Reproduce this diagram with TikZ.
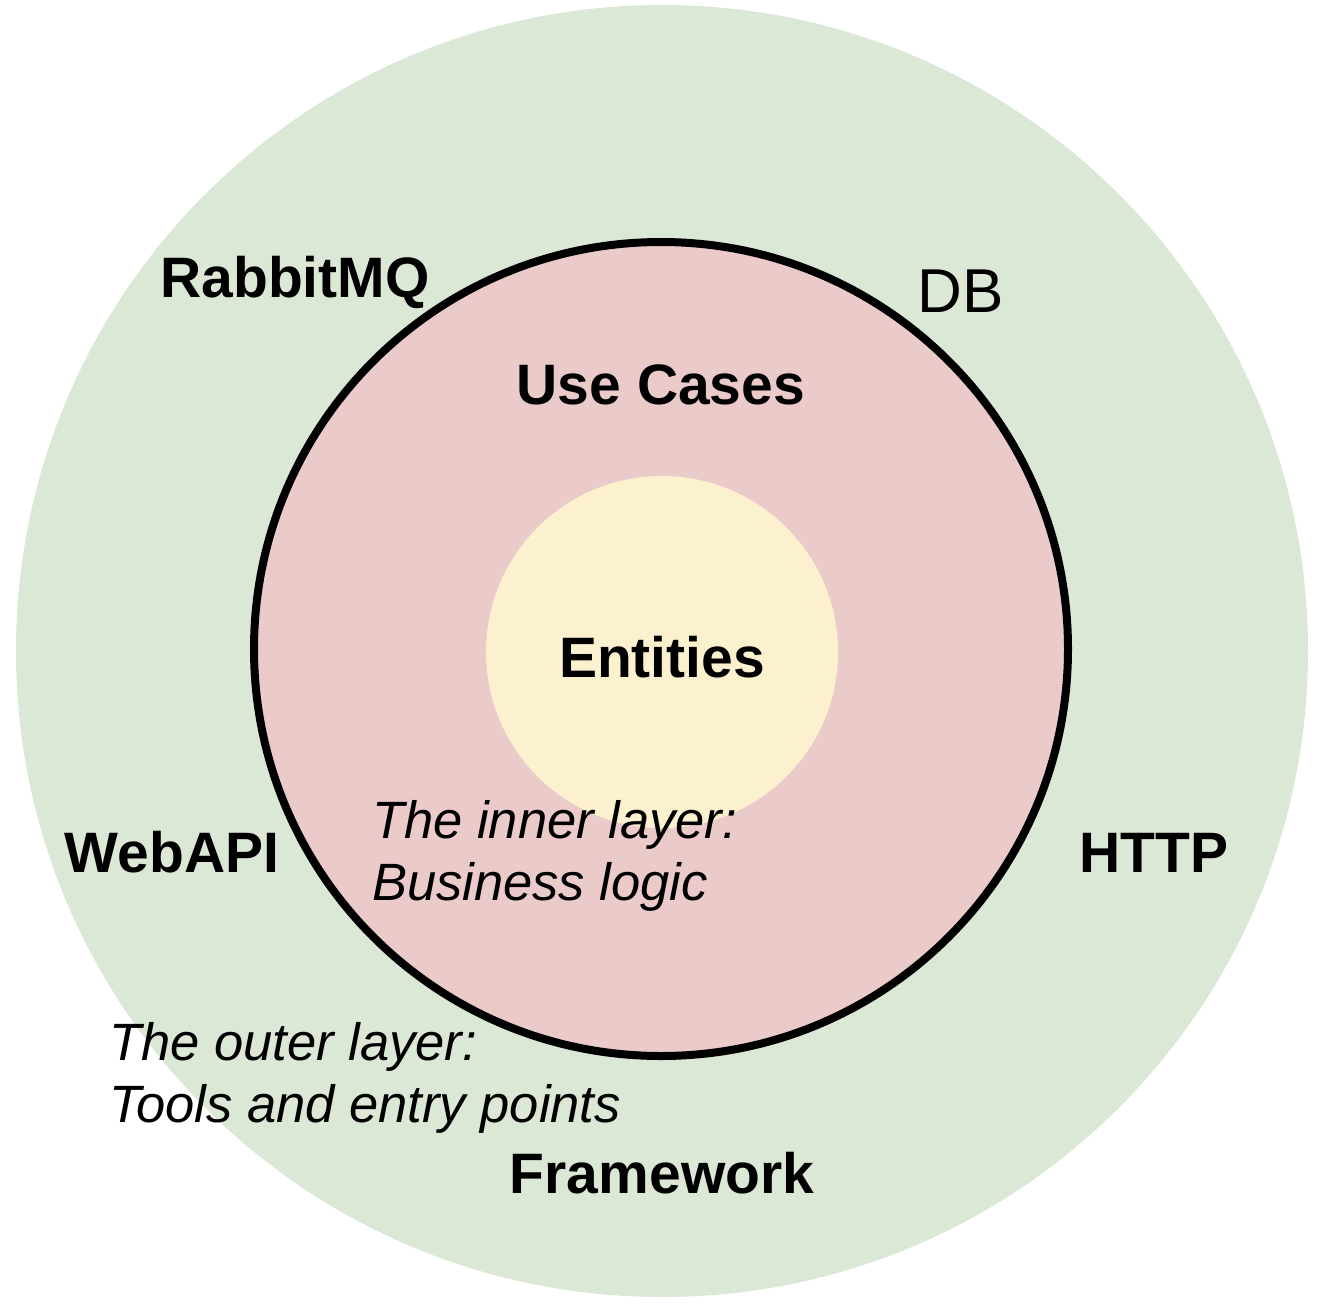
\documentclass[tikz,border=0pt]{standalone}
\usepackage{fontspec}
\setmainfont{Liberation Sans}
\definecolor{outerfill}{HTML}{DAE8D5}
\definecolor{midfill}{HTML}{EBCACA}
\definecolor{corefill}{HTML}{FCF1CF}
\begin{document}
\begin{tikzpicture}[x=1pt,y=-1pt,
  layer/.style={circle,inner sep=0pt,minimum size=#1},
  tag/.style={font=\fontsize{57}{64}\selectfont\bfseries,anchor=base,inner sep=0pt},
  plaintag/.style={font=\fontsize{62}{70}\selectfont,anchor=base,inner sep=0pt},
  note/.style={font=\fontsize{52.5}{62}\selectfont\itshape,align=left,anchor=base west,inner sep=0pt}]
  \useasboundingbox (0,0) rectangle (1322,1304);
  % concentric layers
  \node[layer=1292pt,fill=outerfill] (outer) at (662,651) {};
  \node[layer=814pt,fill=midfill,draw=black,line width=8pt] (middle) at (661,649) {};
  \node[layer=352pt,fill=corefill] (core) at (662,652) {};
  % layer titles
  \node[tag] (usecases) at (661,404) {Use Cases};
  \node[tag] (entities) at (662,677) {Entities};
  \node[tag] (framework) at (662,1193) {Framework};
  % outer tools
  \node[tag] (rabbit) at (295,297) {RabbitMQ};
  \node[plaintag] (db) at (961,312) {DB};
  \node[tag] (webapi) at (172,872) {WebAPI};
  \node[tag] (http) at (1154,872) {HTTP};
  % descriptions (baseline of the last line)
  \node[note] (inner) at (372,900) {The inner layer:\\Business logic};
  \node[note] (outerdesc) at (109,1122) {The outer layer:\\Tools and entry points};
\end{tikzpicture}
\end{document}
